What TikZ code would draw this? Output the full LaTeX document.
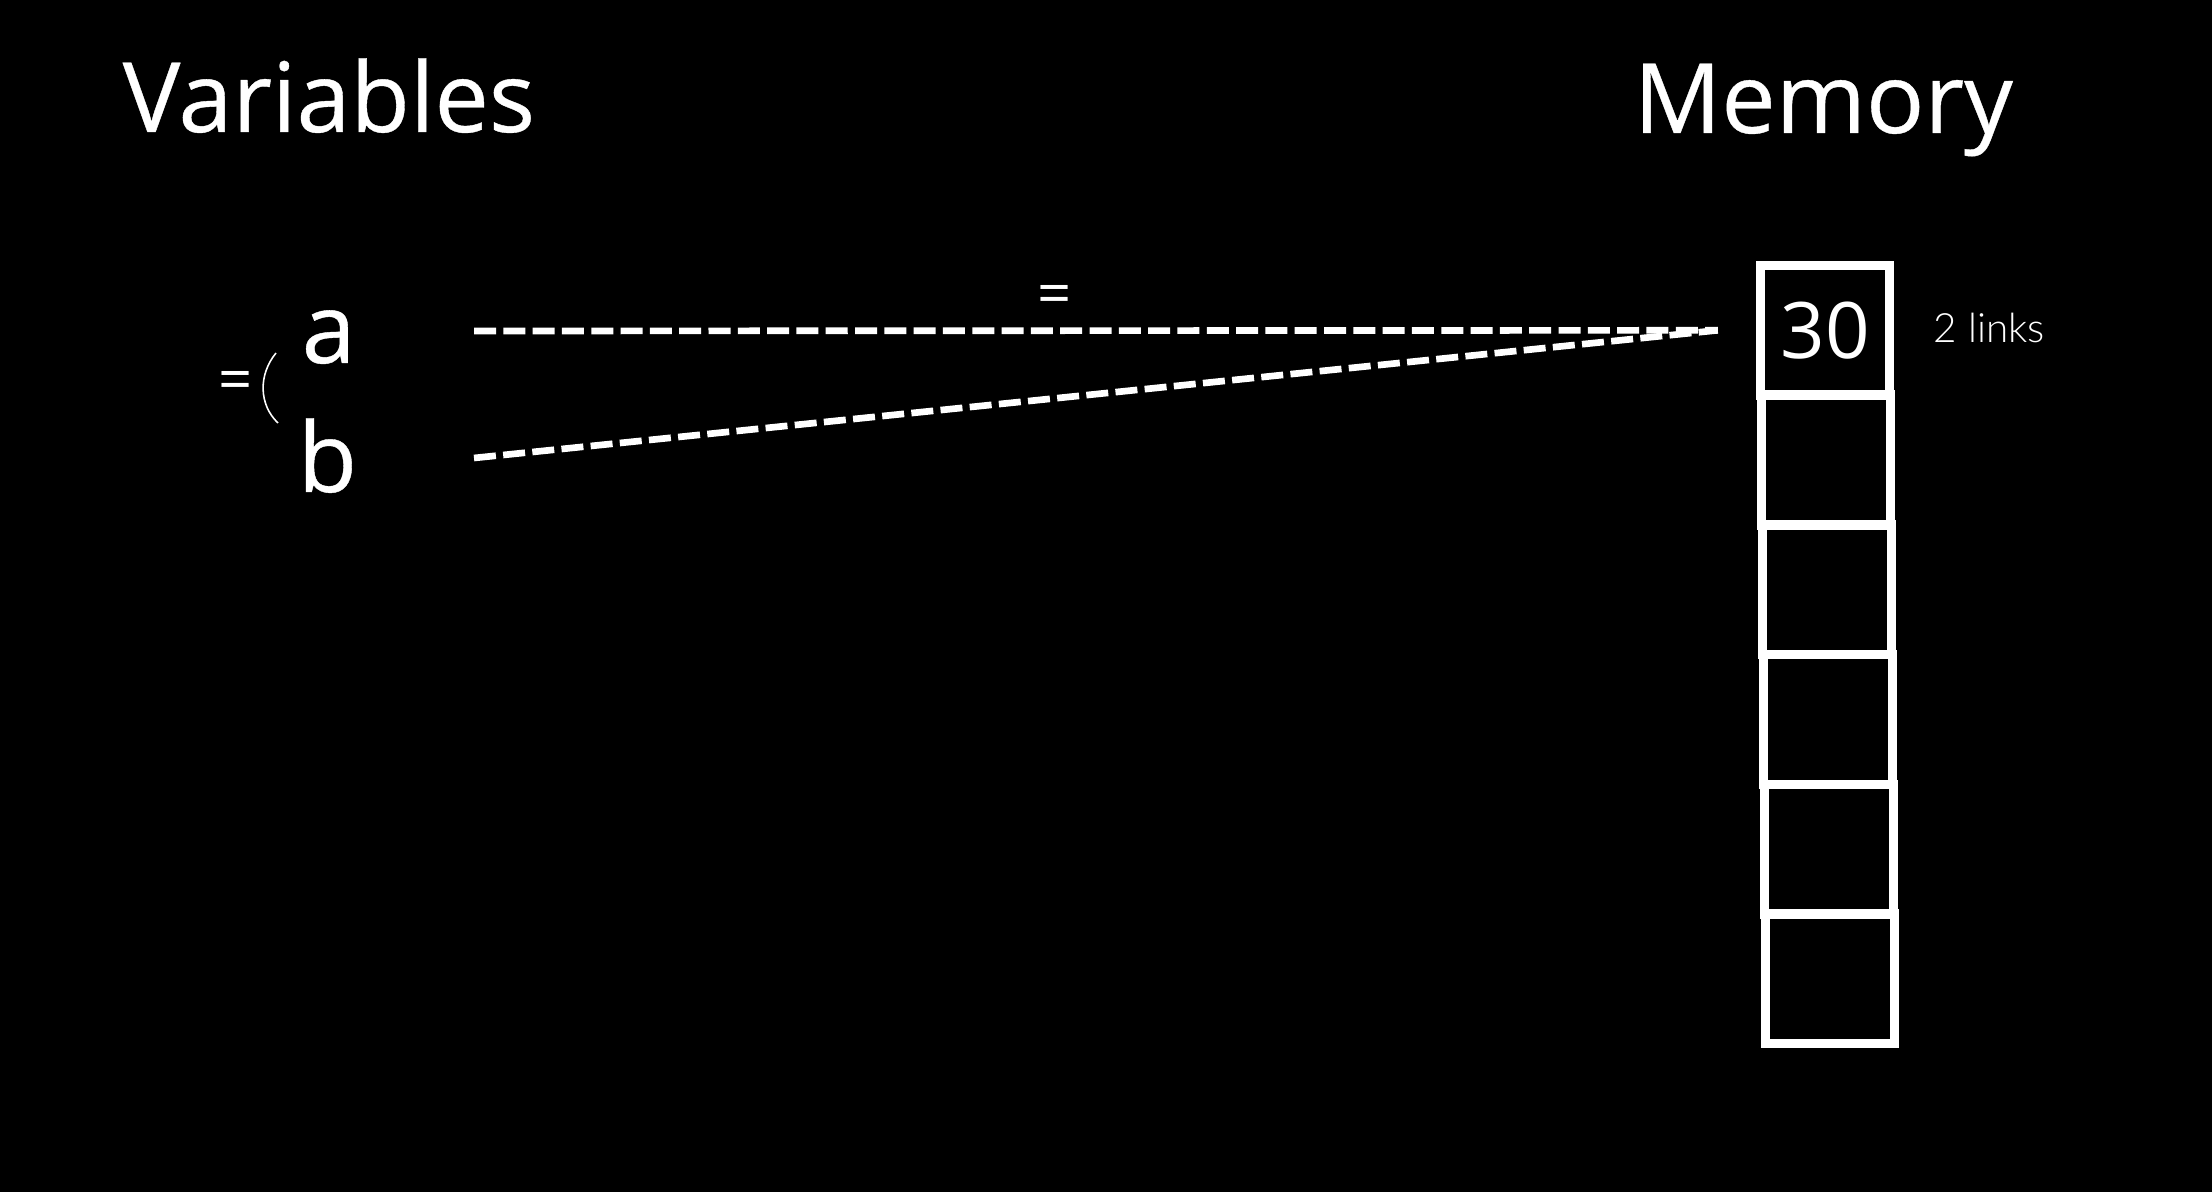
\documentclass[tikz,border=0pt]{standalone}
\usepackage{fontspec}
\setmainfont{Open Sans}
\newfontfamily\lightfont{Lato Light}
\usetikzlibrary{positioning}

\begin{document}
\begin{tikzpicture}[x=0.1mm,y=-0.1mm,
  lbl/.style={text=white,inner sep=0pt,font=\fontsize{27.6}{30}\selectfont\addfontfeature{FakeBold=0.4}},
  small/.style={text=white,inner sep=0pt,font=\fontsize{17}{20}\selectfont},
  cell/.style={draw=white,line width=2.7pt,minimum width=12.9mm,minimum height=12.97mm,
    inner sep=0pt,text=white,font=\fontsize{22}{24}\selectfont},
  link/.style={draw=white,line width=1.9pt,dash pattern=on 6.26pt off 2.08pt}]
  \fill[black] (0,0) rectangle (2212,1192);
  \useasboundingbox (0,0) rectangle (2212,1192);

  % headings
  \node[lbl,anchor=base west] (vars) at (122,132) {Variables};
  \node[lbl,anchor=base west] (mem) at (1633,133) {Memory};

  % variables
  \node[lbl,anchor=base west] (a) at (301,363) {a};
  \node[lbl,anchor=base west] (b) at (297,492) {b};
  \node[small] (eq-left) at (236,386) {=};
  \draw[white,line width=0.45pt] (276,353) .. controls (258,375) and (259,405) .. (278,423);

  % memory cells
  \foreach \i in {1,...,6}
    \node[cell] (cell\i) at ({1825+(\i-1)*1},{330.3+(\i-1)*129.7}) {};
  \node[text=white,inner sep=0pt,font=\fontsize{22.2}{24}\selectfont] (val) at (cell1) {30};
  \node[text=white,inner sep=0pt,font=\lightfont\fontsize{11.5}{13}\selectfont,anchor=base west] (count) at (1933,343) {2 links};

  % links
  \coordinate (a-out) at (474,331);
  \coordinate (b-out) at (474,458);
  \coordinate (cell-in) at ([xshift=-3.8mm]cell1.west);
  \draw[link] (a-out) -- (cell-in);
  \draw[link] (b-out) -- (cell-in);
  \node[small] (eq-mid) at (1055,300) {=};
\end{tikzpicture}
\end{document}
